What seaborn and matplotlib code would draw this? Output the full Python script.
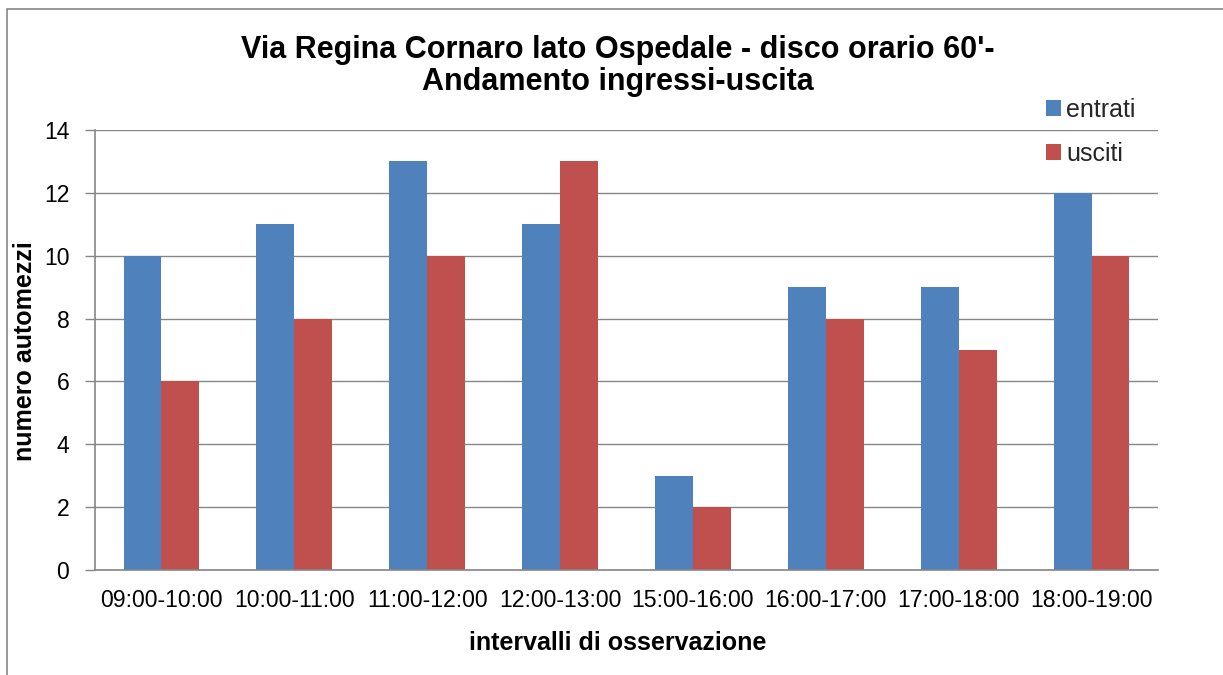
import matplotlib
matplotlib.use("Agg")
import matplotlib.pyplot as plt
import matplotlib.patches as mpatches
import seaborn as sns
import pandas as pd

# ---- data ----
categories = ["09:00-10:00", "10:00-11:00", "11:00-12:00", "12:00-13:00",
              "15:00-16:00", "16:00-17:00", "17:00-18:00", "18:00-19:00"]
entrati = [10, 11, 13, 11, 3, 9, 9, 12]
usciti = [6, 8, 10, 13, 2, 8, 7, 10]
series_names = ["entrati", "usciti"]
y_ticks = [0, 2, 4, 6, 8, 10, 12, 14]
title_lines = ["Via Regina Cornaro lato Ospedale - disco orario 60'-",
               "Andamento ingressi-uscita"]
x_label = "intervalli di osservazione"
y_label = "numero automezzi"

df = pd.DataFrame({
    "intervallo": categories * 2,
    "serie": [series_names[0]] * len(categories) + [series_names[1]] * len(categories),
    "valore": entrati + usciti,
})

sns.set_theme(style="white")
plt.rcParams["font.family"] = ["Liberation Sans", "DejaVu Sans"]

W, H = 1223, 675
fig = plt.figure(figsize=(W / 100, H / 100), dpi=100)
fig.patch.set_facecolor("white")

# axes placement in pixels
L, R, T, B = 95, 1158, 130, 570
ax = fig.add_axes([L / W, 1 - B / H, (R - L) / W, (B - T) / H])

palette = {"entrati": "#4F81BD", "usciti": "#C0504D"}
sns.barplot(data=df, x="intervallo", y="valore", hue="serie", order=categories,
            hue_order=series_names, palette=palette, width=0.57, gap=0,
            saturation=1, edgecolor="none", linewidth=0, ax=ax, legend=True)

grid_c = "#868686"
ax.set_ylim(0, 14)
ax.set_xlim(-0.5, len(categories) - 0.5)
ax.set_yticks(y_ticks)
ax.yaxis.grid(True, color=grid_c, linewidth=1)
ax.xaxis.grid(False)
ax.set_axisbelow(True)
for s in ["top", "right"]:
    ax.spines[s].set_visible(False)
for s in ["left", "bottom"]:
    ax.spines[s].set_color(grid_c)
    ax.spines[s].set_linewidth(1.2)

ax.tick_params(axis="y", which="major", direction="out", length=7, width=1,
               color=grid_c, labelsize=16.5, labelcolor="black", pad=11.5, left=True)
ax.tick_params(axis="x", which="major", length=0, labelsize=16.6,
               labelcolor="black", pad=14)

ax.set_xlabel(x_label, fontsize=18, fontweight="bold", color="black")
ax.set_ylabel(y_label, fontsize=18, fontweight="bold", color="black")
ax.xaxis.set_label_coords((618 - L) / (R - L), (B - 643) / (B - T))
ax.xaxis.label.set_va("center")
ax.yaxis.set_label_coords((25 - L) / (R - L), (B - 351) / (B - T))
ax.yaxis.label.set_va("center")

# legend
handles, labels = ax.get_legend_handles_labels()
ax.legend(handles, labels, loc="upper left",
          bbox_to_anchor=(1046 / W, 1 - 98 / H), bbox_transform=fig.transFigure,
          frameon=False, fontsize=18, handlelength=0.6, handleheight=0.6,
          handletextpad=0.2, labelspacing=0.8, borderpad=0, borderaxespad=0)

# title
fig.text(618 / W, 1 - 58 / H, title_lines[0], ha="center", va="baseline",
         fontsize=22, fontweight="bold", color="black")
fig.text(618 / W, 1 - 90 / H, title_lines[1], ha="center", va="baseline",
         fontsize=22, fontweight="bold", color="black")

# chart-area border (extends past the right and bottom edges)
border = mpatches.Rectangle((7 / W, -0.1), 1.2, (1 - 9 / H) + 0.1,
                            transform=fig.transFigure, fill=False,
                            edgecolor="#888888", linewidth=1.2, clip_on=False)
fig.patches.append(border)

fig.savefig("out.png", dpi=100, facecolor="white")
